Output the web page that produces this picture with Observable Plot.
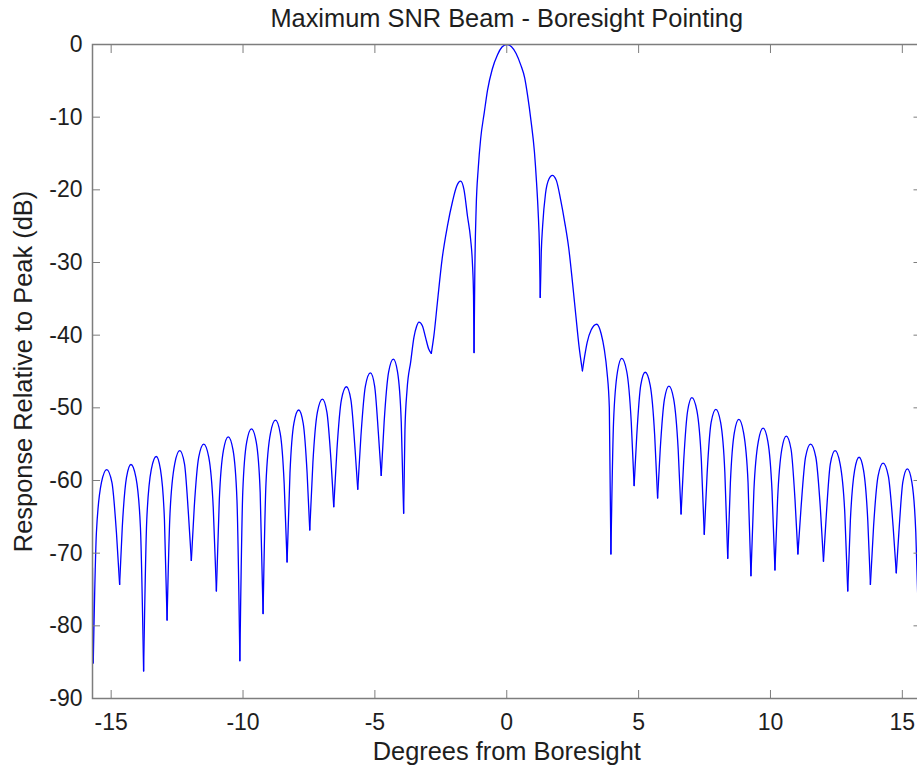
<!DOCTYPE html>
<html>
<head>
<meta charset="utf-8">
<script src="https://cdn.jsdelivr.net/npm/d3@7"></script>
<script src="https://cdn.jsdelivr.net/npm/@observablehq/plot@0.6"></script>
<style>
  html, body { margin: 0; padding: 0; background: #fff; overflow: hidden; }
  #chart { width: 917px; height: 770px; }
</style>
</head>
<body>
<div id="chart"></div>
<script>
// ---- data ----
const titleText = "Maximum SNR Beam - Boresight Pointing";
const xLabelText = "Degrees from Boresight";
const yLabelText = "Response Relative to Peak (dB)";

const xTicks = [-15, -10, -5, 0, 5, 10, 15];
const yTicks = [-90, -80, -70, -60, -50, -40, -30, -20, -10, 0];

const angleDeg = [
  -15.71, -15.68,
  -15.56, -15.37, -15.17, -14.97, -14.80, -14.68,
  -14.58, -14.42, -14.25, -14.06, -13.89, -13.77,
  -13.65, -13.48, -13.29, -13.13, -12.98, -12.88,
  -12.77, -12.59, -12.40, -12.22, -12.07, -11.96,
  -11.85, -11.68, -11.49, -11.30, -11.13, -11.01,
  -10.90, -10.74, -10.56, -10.38, -10.23, -10.12,
  -10.01, -9.86, -9.68, -9.50, -9.35, -9.24,
  -9.13, -8.96, -8.77, -8.59, -8.44, -8.33,
  -8.22, -8.07, -7.89, -7.72, -7.57, -7.47,
  -7.35, -7.18, -6.99, -6.82, -6.66, -6.56,
  -6.44, -6.27, -6.08, -5.91, -5.75, -5.65,
  -5.53, -5.36, -5.17, -5.01, -4.86, -4.76,
  -4.65, -4.48, -4.30, -4.14, -4.00, -3.91,
  -3.86, -3.78, -3.64, -3.52, -3.42, -3.33, -3.20, -3.08, -2.96, -2.86,
  -2.76, -2.63, -2.45, -2.25, -2.05, -1.90, -1.75, -1.62, -1.49, -1.37, -1.30, -1.26, -1.24,
  -1.21, -1.16, -1.08, -0.99, -0.85, -0.73, -0.55, -0.35, -0.18, 0.00,
  0.18, 0.35, 0.53, 0.68, 0.79, 0.92, 1.05, 1.13, 1.19, 1.24, 1.27,
  1.31, 1.36, 1.47, 1.60, 1.73, 1.88, 2.05, 2.20, 2.35, 2.50, 2.62, 2.74, 2.87,
  2.95, 3.05, 3.20, 3.41, 3.58, 3.70, 3.80, 3.89, 3.95,
  4.05, 4.20, 4.36, 4.55, 4.72, 4.83,
  4.93, 5.08, 5.25, 5.44, 5.61, 5.72,
  5.82, 5.98, 6.15, 6.33, 6.50, 6.61,
  6.71, 6.86, 7.02, 7.21, 7.38, 7.49,
  7.60, 7.75, 7.93, 8.11, 8.27, 8.38,
  8.48, 8.63, 8.80, 8.98, 9.15, 9.26,
  9.37, 9.54, 9.72, 9.90, 10.06, 10.17,
  10.27, 10.43, 10.60, 10.78, 10.93, 11.04,
  11.16, 11.33, 11.52, 11.72, 11.89, 12.01,
  12.12, 12.27, 12.45, 12.64, 12.82, 12.93,
  13.03, 13.19, 13.36, 13.53, 13.69, 13.79,
  13.91, 14.08, 14.27, 14.47, 14.65, 14.77,
  14.87, 15.02, 15.19, 15.36, 15.51, 15.61, 15.71
];

const responseDb = [
  -72.0, -85.1,
  -67.2, -60.3, -58.5, -60.3, -67.2, -74.3,
  -66.5, -59.6, -57.8, -59.6, -66.5, -86.2,
  -65.4, -58.5, -56.7, -58.5, -65.4, -79.2,
  -64.6, -57.7, -55.9, -57.7, -64.6, -71.0,
  -63.7, -56.8, -55.0, -56.8, -63.7, -75.2,
  -62.7, -55.8, -54.0, -55.8, -62.7, -84.8,
  -61.6, -54.7, -52.9, -54.7, -61.6, -78.3,
  -60.4, -53.5, -51.7, -53.5, -60.4, -71.2,
  -59.0, -52.1, -50.3, -52.1, -59.0, -66.8,
  -57.5, -50.6, -48.8, -50.6, -57.5, -63.6,
  -55.8, -48.9, -47.1, -48.9, -55.8, -61.2,
  -53.9, -47.0, -45.2, -47.0, -53.9, -59.3,
  -52.0, -45.1, -43.3, -45.1, -52.0, -64.5,
  -53.0, -47.5, -43.6, -40.3, -38.8, -38.2, -38.7, -40.3, -41.9, -42.5,
  -40.0, -35.5, -29.5, -25.0, -21.5, -19.5, -18.8, -20.0, -23.6, -26.8, -30.2, -34.5, -42.4,
  -31.0, -22.5, -17.0, -13.0, -9.3, -6.3, -3.4, -1.4, -0.35, 0.0,
  -0.3, -1.2, -2.8, -4.6, -7.0, -10.5, -14.8, -19.0, -23.0, -28.0, -34.8,
  -28.5, -25.0, -20.5, -18.5, -18.0, -18.7, -21.5, -24.5, -28.0, -33.0, -37.3, -41.5, -44.9,
  -43.0, -41.0, -39.3, -38.5, -39.8, -42.0, -45.0, -50.0, -70.1,
  -51.9, -45.0, -43.2, -45.0, -51.9, -60.7,
  -53.8, -46.9, -45.1, -46.9, -53.8, -62.4,
  -55.7, -48.8, -47.0, -48.8, -55.7, -64.6,
  -57.3, -50.4, -48.6, -50.4, -57.3, -67.4,
  -58.9, -52.0, -50.2, -52.0, -58.9, -70.7,
  -60.3, -53.4, -51.6, -53.4, -60.3, -73.1,
  -61.5, -54.6, -52.8, -54.6, -61.5, -72.3,
  -62.6, -55.7, -53.9, -55.7, -62.6, -70.1,
  -63.7, -56.8, -55.0, -56.8, -63.7, -71.1,
  -64.6, -57.7, -55.9, -57.7, -64.6, -75.2,
  -65.5, -58.6, -56.8, -58.6, -65.5, -74.3,
  -66.3, -59.4, -57.6, -59.4, -66.3, -72.7,
  -67.1, -60.2, -58.4, -60.2, -67.1, -79.0, -68.0
];

// ---- group into lobes (split at each null so nulls stay sharp) ----
const pts = angleDeg.map((x, i) => ({x, y: responseDb[i]}));
const rows = [];
let seg = 0;
pts.forEach((p, i) => {
  rows.push({...p, seg});
  const prev = pts[i - 1], next = pts[i + 1];
  if (prev && next && p.y < prev.y && p.y < next.y) {
    seg++;
    rows.push({...p, seg});
  }
});

const axisGray = "#7d7d7d";
const textColor = "#1e1e1e";
const plainNum = d => `${d}`;
const labelSize = 25.4;

const chart = Plot.plot({
  width: 917,
  height: 770,
  marginLeft: 92,
  marginRight: -3.5,
  marginTop: 44,
  marginBottom: 72,
  style: {fontFamily: "'Liberation Sans', Arial, Helvetica, sans-serif", fontSize: "23px", background: "#fff", color: textColor, overflow: "hidden"},
  x: {domain: [-15.708, 15.708], ticks: xTicks},
  y: {domain: [-90, 0], ticks: yTicks},
  marks: [
    Plot.line(rows, {x: "x", y: "y", z: "seg", stroke: "#0000ff", strokeWidth: 1.3, curve: "monotone-x", clip: true}),
    Plot.frame({stroke: axisGray, strokeWidth: 1.5}),
    Plot.axisX(xTicks, {anchor: "bottom", tickSize: -8, tickPadding: 23.5, tickFormat: plainNum, stroke: axisGray, fill: textColor, label: null}),
    Plot.axisX(xTicks, {anchor: "top", tickSize: -8, tickFormat: () => "", stroke: axisGray, label: null}),
    Plot.axisY(yTicks, {anchor: "left", tickSize: -8, tickPadding: 18, tickFormat: plainNum, stroke: axisGray, fill: textColor, label: null}),
    Plot.axisY(yTicks, {anchor: "right", tickSize: -8, tickFormat: () => "", stroke: axisGray, label: null}),
    Plot.text([titleText], {frameAnchor: "top", dy: -26, fontSize: labelSize, fill: textColor, lineAnchor: "middle", textAnchor: "middle"}),
    Plot.text([xLabelText], {frameAnchor: "bottom", dy: 53, fontSize: labelSize, fill: textColor, lineAnchor: "middle", textAnchor: "middle"}),
    Plot.text([yLabelText], {frameAnchor: "left", dx: -68.5, rotate: -90, fontSize: labelSize, fill: textColor, lineAnchor: "middle", textAnchor: "middle"})
  ]
});
document.getElementById("chart").appendChild(chart);
</script>
</body>
</html>
